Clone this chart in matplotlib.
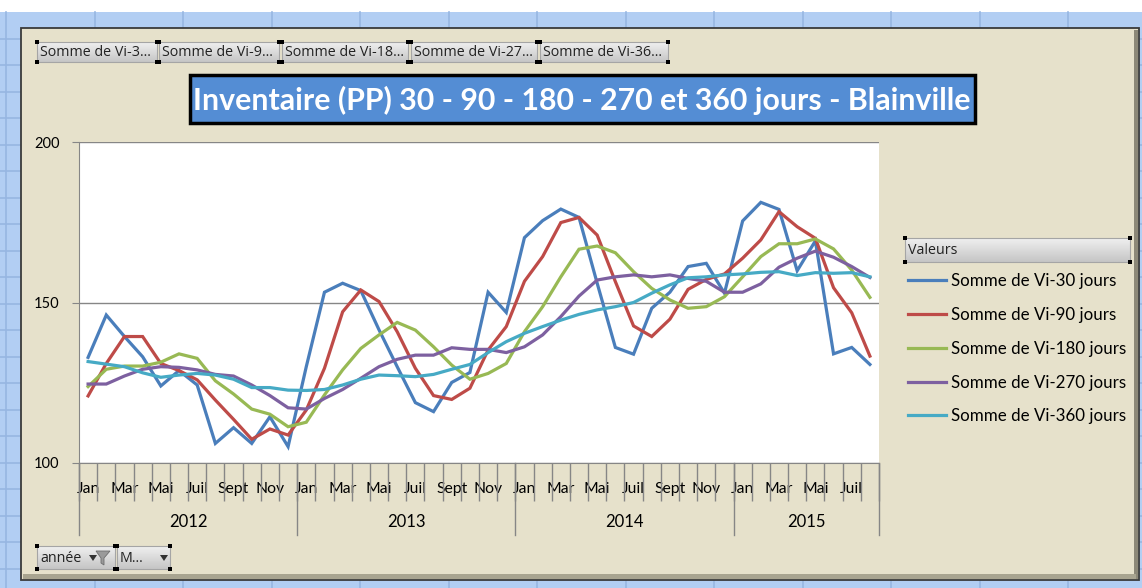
import matplotlib
matplotlib.use("Agg")
import matplotlib.pyplot as plt
import matplotlib.transforms as mtransforms
from matplotlib.patches import Rectangle, Polygon
import numpy as np

plt.rcParams["font.family"] = ["Lato", "DejaVu Sans"]

# ── data (Jan 2012 .. Aug 2015) ─────────────────────────────────────────────
years = ["2012", "2013", "2014", "2015"]
months_per_year = [12, 12, 12, 8]
month_names = ["Jan", "Fév", "Mar", "Avr", "Mai", "Juin",
               "Juil", "Août", "Sept", "Oct", "Nov", "Déc"]

vi30 = [132.9, 146.1, 139.4, 133.1, 124.0, 128.8, 124.3, 106.1, 111.0, 106.1, 114.4, 105.1,
        130.0, 153.2, 156.0, 153.7, 141.5, 130.0, 118.8, 116.0, 125.1, 128.2, 153.2, 146.9,
        170.2, 175.5, 179.1, 176.5, 156.0, 136.0, 133.9, 148.2, 153.2, 161.2, 162.2, 152.9,
        175.4, 181.2, 179.0, 159.9, 169.2, 134.0, 136.0, 130.7]
vi90 = [120.9, 131.0, 139.4, 139.4, 131.0, 128.8, 125.9, 119.6, 113.6, 107.4, 110.6, 108.7,
        116.5, 129.5, 147.1, 153.9, 150.3, 140.9, 129.5, 121.0, 119.8, 123.3, 135.2, 142.5,
        156.6, 164.3, 174.9, 176.5, 171.0, 156.5, 142.7, 139.4, 144.8, 154.1, 157.2, 158.9,
        163.8, 169.5, 178.3, 173.6, 170.0, 154.6, 146.8, 133.3]
vi180 = [123.8, 129.2, 130.2, 130.2, 131.4, 134.0, 132.6, 125.6, 121.5, 116.8, 115.2, 111.3,
         112.7, 121.2, 129.0, 135.7, 139.9, 143.8, 141.4, 136.2, 130.5, 126.1, 127.9, 131.0,
         140.9, 148.7, 158.0, 166.6, 167.6, 165.5, 159.6, 154.4, 150.8, 148.2, 148.7, 151.8,
         158.0, 164.3, 168.3, 168.3, 169.8, 166.7, 160.1, 151.6]
vi270 = [124.6, 124.6, 127.1, 129.2, 130.0, 129.8, 129.0, 127.6, 127.1, 124.3, 121.0, 117.2,
         116.8, 120.1, 122.9, 126.4, 130.0, 132.3, 133.6, 133.6, 135.9, 135.4, 135.4, 134.4,
         136.2, 139.9, 145.6, 152.0, 157.0, 158.0, 158.6, 158.0, 158.6, 157.5, 156.6, 153.2,
         153.2, 155.8, 161.0, 163.8, 166.0, 164.1, 161.2, 157.8]
vi360 = [131.6, 130.8, 130.0, 128.1, 126.7, 127.4, 127.9, 127.4, 126.1, 123.5, 123.5, 122.7,
         122.6, 122.9, 124.3, 126.1, 127.4, 127.2, 126.9, 127.6, 129.2, 130.7, 134.4, 137.8,
         140.4, 142.5, 144.5, 146.3, 147.7, 148.7, 150.0, 152.9, 155.5, 157.7, 158.0, 158.6,
         158.9, 159.4, 159.6, 158.4, 159.3, 159.1, 159.3, 158.0]

series_labels = ["Somme de Vi-30 jours", "Somme de Vi-90 jours", "Somme de Vi-180 jours",
                 "Somme de Vi-270 jours", "Somme de Vi-360 jours"]
series_colors = ["#4A7EBB", "#BE4B48", "#98B954", "#7D60A0", "#46AAC5"]
field_buttons = ["Somme de Vi-3...", "Somme de Vi-9...", "Somme de Vi-18...",
                 "Somme de Vi-27...", "Somme de Vi-36..."]
title = "Inventaire (PP) 30 - 90 - 180 - 270 et 360 jours - Blainville"

W, H = 1142, 588
BEIGE = "#E6E1CB"
fig = plt.figure(figsize=(W / 100, H / 100), dpi=100)

# ── background: spreadsheet grid + chart frame, in pixel coordinates ───────
bg = fig.add_axes([0, 0, 1, 1])
bg.axis("off")
bg.add_patch(Rectangle((0, 12), W, H - 12, fc="#B2CEF3", ec="none", zorder=0))
for cx in np.arange(6, W, 88.5):
    bg.plot([cx, cx], [12, H], color="#97B6E2", lw=1.2, zorder=0.5)
for ry in np.arange(38.5, H, 26.5):
    bg.plot([0, W], [ry, ry], color="#97B6E2", lw=1.2, zorder=0.5)
bg.add_patch(Rectangle((21, 28), 1118, 552, fc=BEIGE, ec="#3A3A3A", lw=1.3, zorder=1))
bg.add_patch(Rectangle((1134, 30), 4, 549, fc="#8C8878", ec="none", zorder=1.1))
bg.add_patch(Rectangle((23, 574), 1113, 5, fc="#A8A490", ec="none", zorder=1.1))

grad = np.linspace(0, 1, 20).reshape(-1, 1)
btn_cmap = matplotlib.colors.LinearSegmentedColormap.from_list("btn", ["#EFEFEF", "#C6C6C6"])


def button(x0, x1, y0, y1, text, fs=10.3):
    bg.imshow(grad, cmap=btn_cmap, extent=(x0, x1, y1, y0), aspect="auto", zorder=2)
    bg.add_patch(Rectangle((x0, y0), x1 - x0, y1 - y0, fc="none", ec="#A5A5A5", lw=0.8, zorder=3))
    for hx in (x0, x1):
        for hy in (y0, y1):
            bg.add_patch(Rectangle((hx - 2, hy - 2), 4, 4, fc="black", ec="none", zorder=4))
    bg.text(x0 + 3, (y0 + y1) / 2 + 1, text, fontsize=fs, va="center", ha="left",
            color="#222222", family=["Open Sans", "DejaVu Sans"], zorder=5)


for (x0, x1), t in zip([(37, 157), (159, 279), (282, 408), (411, 537), (540, 668)], field_buttons):
    button(x0, x1, 42, 62, t)
button(37, 115, 546, 569, "année")
button(117, 170, 546, 569, "M...")
for ax_x in (89, 160):
    bg.add_patch(Polygon([[ax_x, 555], [ax_x + 8, 555], [ax_x + 4, 561]], fc="#333333", ec="none", zorder=6))
bg.add_patch(Polygon([[96, 551], [110, 551], [104, 558], [104, 565], [101, 563], [101, 558]],
                     fc="#9A9A9A", ec="#6E6E6E", lw=0.6, zorder=6))

# legend header button
button(905, 1130, 238, 262, "Valeurs")

# title box
bg.add_patch(Rectangle((190, 75), 785, 48, fc="#548DD4", ec="black", lw=2.5, zorder=5))
bg.text(582, 100, title, fontsize=21.8, fontweight="bold", color="white", ha="center", va="center",
        zorder=6)
bg.set_xlim(0, W)
bg.set_ylim(H, 0)

# ── main plot ───────────────────────────────────────────────────────────────
ax = fig.add_axes([79 / W, 1 - 463 / H, 800 / W, 321 / H])
ax.set_facecolor("white")
x = np.arange(len(vi30))
for vals, lab, col in zip([vi30, vi90, vi180, vi270, vi360], series_labels, series_colors):
    ax.plot(x, vals, color=col, lw=2.3, label=lab, solid_joinstyle="miter", zorder=3)

ax.set_xlim(-0.5, len(vi30) - 0.5)
ax.set_ylim(100, 200)
ax.set_yticks([100, 150, 200])
ax.yaxis.grid(True, color="#868686", lw=1)
ax.set_axisbelow(True)
for s in ("top", "right"):
    ax.spines[s].set_visible(False)
for s in ("left", "bottom"):
    ax.spines[s].set_color("#868686")
ax.tick_params(axis="y", length=5, color="#868686", labelsize=10.5, pad=9)

month_labels = [month_names[i % 12] for i in range(len(vi30))]
ax.set_xticks(x[::2])
ax.set_xticklabels(month_labels[::2], fontsize=11.3)
ax.tick_params(axis="x", length=0, pad=14)
ax.set_xticks(np.arange(-0.5, len(vi30)), minor=True)
ax.tick_params(axis="x", which="minor", length=27, color="#868686", width=1)

trans = mtransforms.blended_transform_factory(ax.transData, ax.transAxes)
edges = np.concatenate([[0], np.cumsum(months_per_year)]) - 0.5
for e in edges:
    ax.plot([e, e], [0, -72 / 321], transform=trans, color="#868686", lw=1, clip_on=False)
for yr, a, b in zip(years, edges[:-1], edges[1:]):
    ax.text((a + b) / 2, -59 / 321, yr, transform=trans, ha="center", va="center", fontsize=12)

handles, labels = ax.get_legend_handles_labels()
fig.legend(handles, labels, loc="upper left", bbox_to_anchor=(893 / W, 1 - 258 / H),
           frameon=False, fontsize=12.2, handlelength=2.2, handletextpad=0.3, labelspacing=1.05)

fig.savefig("out.png", dpi=100, facecolor="white")
